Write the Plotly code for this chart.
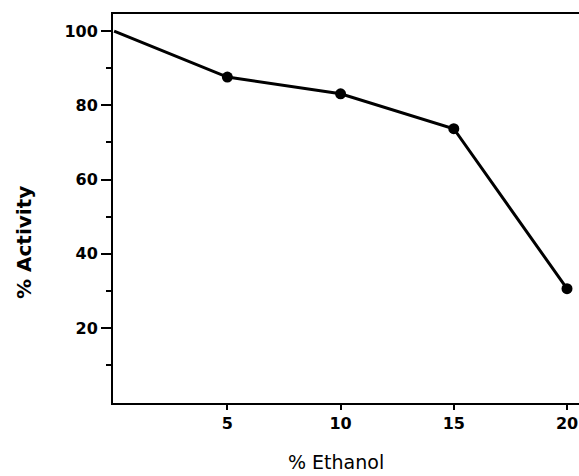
import plotly.graph_objects as go

ethanol_pct = [0, 5, 10, 15, 20]
activity_pct = [100, 87.6, 83.1, 73.7, 30.6]
x_tick_vals = [5, 10, 15, 20]
x_tick_text = ["5", "10", "15", "20"]
y_tick_vals = [20, 40, 60, 80, 100]
y_tick_text = ["20", "40", "60", "80", "100"]

FONT = "DejaVu Sans"

fig = go.Figure()
fig.add_trace(go.Scatter(
    x=ethanol_pct, y=activity_pct, mode="lines+markers",
    line=dict(color="black", width=3),
    marker=dict(color="black", size=[0, 11, 11, 11, 11], opacity=1,
                line=dict(width=0, color="black")),
    cliponaxis=False, showlegend=False,
))

fig.update_layout(
    width=579, height=476,
    margin=dict(l=113, r=0, t=14, b=73),
    paper_bgcolor="white", plot_bgcolor="white",
    font=dict(family=FONT, color="black", size=16),
    xaxis=dict(
        range=[-0.05, 20.53], showgrid=False, zeroline=False,
        showline=True, linecolor="black", linewidth=2, mirror=True,
        tickmode="array", tickvals=x_tick_vals, ticktext=x_tick_text,
        ticks="outside", ticklen=5, tickwidth=2, tickcolor="black",
        tickfont=dict(family=FONT, size=16, weight="bold"),
    ),
    yaxis=dict(
        range=[-0.2, 104.6], showgrid=False, zeroline=False,
        showline=True, linecolor="black", linewidth=2,
        tickmode="array", tickvals=y_tick_vals, ticktext=y_tick_text,
        ticks="outside", ticklen=10, tickwidth=2, tickcolor="black",
        tickfont=dict(family=FONT, size=16, weight="bold"),
        minor=dict(tickmode="array", tickvals=[10, 30, 50, 70, 90],
                   ticks="outside", ticklen=5, tickwidth=2, tickcolor="black"),
    ),
    annotations=[
        dict(text="% Ethanol", xref="paper", yref="paper", x=(336-113)/(579-113),
             y=-(462-403)/(403-14), xanchor="center", yanchor="middle",
             showarrow=False, borderpad=0, font=dict(family=FONT, size=19)),
        dict(text="% Activity", xref="paper", yref="paper", x=-(113-24)/(579-113),
             y=(403-243)/(403-14), xanchor="center", yanchor="middle", textangle=-90,
             showarrow=False, borderpad=0, font=dict(family=FONT, size=20, weight="bold")),
    ],
)

fig.write_html("out.html")
